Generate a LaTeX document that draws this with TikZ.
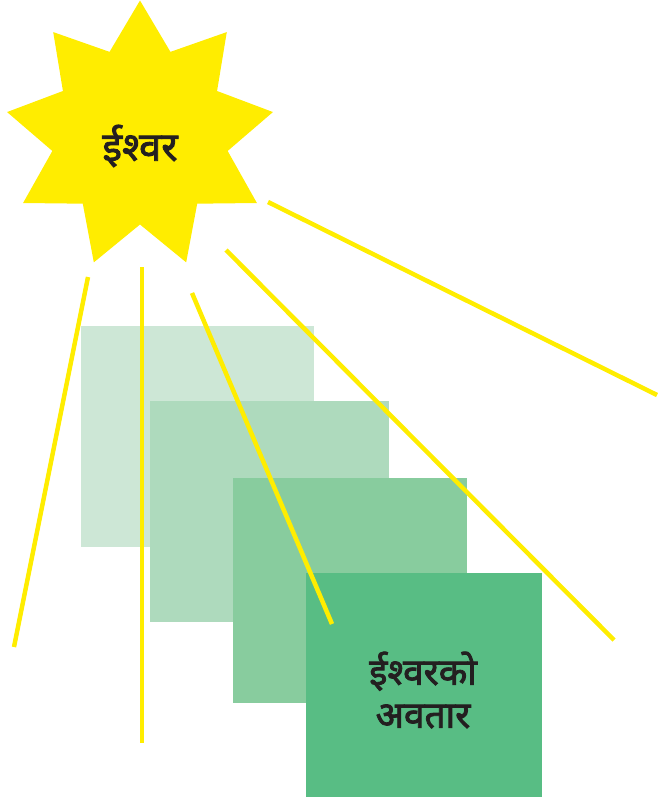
\documentclass[tikz,border=0pt]{standalone}
\usepackage{fontspec}
\newfontfamily\deva[Script=Devanagari,FakeBold=2.2]{Noto Sans}
\definecolor{sunyellow}{HTML}{FFED00}
\definecolor{gA}{HTML}{CDE7D6}
\definecolor{gB}{HTML}{AEDABD}
\definecolor{gC}{HTML}{88CC9E}
\definecolor{gD}{HTML}{58BD84}
\definecolor{ink}{HTML}{231F20}
\begin{document}
\begin{tikzpicture}[x=1pt,y=1pt,
  ray/.style={draw=sunyellow,line width=4.5pt},
  panel/.style={fill=#1,draw=none},
  lbl/.style={text=ink, align=center}]
\useasboundingbox (0,0) rectangle (657,-798);
% star
\fill[sunyellow,shift={(140,-135.5)}] (90:135)
  \foreach \i in {0,...,8} { -- ({110+40*\i}:89) -- ({130+40*\i}:135) } -- cycle;
\node[lbl,font=\deva\fontsize{40}{44}\selectfont] (god) at (140,-146) {ईश्वर};
% panels
\fill[panel=gA] (81,-326) rectangle (314,-547);
\fill[panel=gB] (150,-401) rectangle (389,-622);
\fill[panel=gC] (233,-478) rectangle (467,-703);
\fill[panel=gD] (306,-573) rectangle (542,-797);
\node[lbl,font=\deva\fontsize{37}{43}\selectfont] (avatar) at (423,-690) {ईश्वरको\\अवतार};
% rays
\coordinate (r1a) at (88,-277);  \coordinate (r1b) at (14,-647);
\coordinate (r2a) at (142,-267); \coordinate (r2b) at (142,-743);
\coordinate (r3a) at (192,-293); \coordinate (r3b) at (332,-624);
\coordinate (r4a) at (226,-250); \coordinate (r4b) at (614,-640);
\coordinate (r5a) at (268,-202); \coordinate (r5b) at (657,-395);
\draw[ray] (r1a) -- (r1b);
\draw[ray] (r2a) -- (r2b);
\draw[ray] (r3a) -- (r3b);
\draw[ray] (r4a) -- (r4b);
\draw[ray] (r5a) -- (r5b);
\end{tikzpicture}
\end{document}
